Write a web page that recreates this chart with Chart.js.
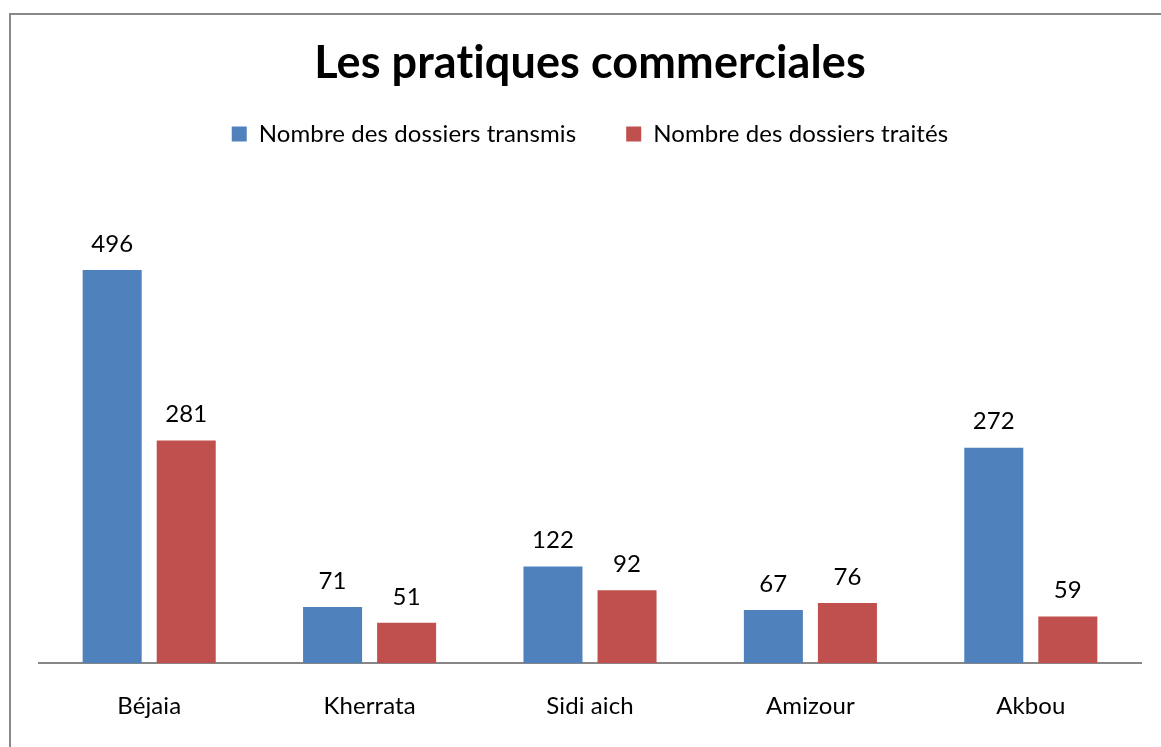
<!DOCTYPE html>
<html>
<head>
<meta charset="utf-8">
<script src="https://cdn.jsdelivr.net/npm/chart.js@4.4.1/dist/chart.umd.min.js"></script>
<style>
  html, body { margin: 0; padding: 0; background: #ffffff; overflow: hidden; }
  #wrap { position: relative; width: 1161px; height: 747px; }
  #frame { position: absolute; left: 9px; top: 13px; width: 1400px; height: 1000px;
           border-left: 2px solid #898989; border-top: 2px solid #898989; box-sizing: border-box; pointer-events: none; }
  canvas { position: absolute; left: 0; top: 0; }
</style>
</head>
<body>
<div id="wrap">
  <canvas id="c" width="1161" height="747"></canvas>
  <div id="frame"></div>
</div>
<script>
const chartTitle = "Les pratiques commerciales";
const categories = ["Béjaia", "Kherrata", "Sidi aich", "Amizour", "Akbou"];
const seriesNames = ["Nombre des dossiers transmis", "Nombre des dossiers traités"];
const transmis = [496, 71, 122, 67, 272];
const traites = [281, 51, 92, 76, 59];

const FONT = "Lato, 'Open Sans', sans-serif";

const noLigatures = {
  id: "noLigatures",
  beforeInit(chart) { chart.ctx.letterSpacing = "0.1px"; },
  beforeLayout(chart) { chart.ctx.letterSpacing = "0.1px"; },
  beforeDraw(chart) { chart.ctx.letterSpacing = "0.1px"; }
};

const valueLabels = {
  id: "valueLabels",
  afterDatasetsDraw(chart) {
    const ctx = chart.ctx;
    ctx.save();
    ctx.font = "24px " + FONT;
    ctx.fillStyle = "#000000";
    ctx.textAlign = "center";
    ctx.textBaseline = "middle";
    chart.data.datasets.forEach((ds, di) => {
      const meta = chart.getDatasetMeta(di);
      meta.data.forEach((bar, i) => {
        ctx.fillText(String(ds.data[i]), bar.x, bar.y - 26);
      });
    });
    ctx.restore();
  }
};

new Chart(document.getElementById("c"), {
  type: "bar",
  data: {
    labels: categories,
    datasets: [
      { label: seriesNames[0], data: transmis, backgroundColor: "#4F81BD",
        categoryPercentage: 0.672, barPercentage: 0.797 },
      { label: seriesNames[1], data: traites, backgroundColor: "#C0504D",
        categoryPercentage: 0.672, barPercentage: 0.797 }
    ]
  },
  options: {
    responsive: false,
    animation: false,
    devicePixelRatio: 1,
    layout: { padding: { left: 39, right: 20, top: 0, bottom: 20 } },
    plugins: {
      title: {
        display: true,
        text: chartTitle,
        color: "#000000",
        font: { family: FONT, size: 45, weight: "bold", lineHeight: 0.4 },
        padding: { top: 54, bottom: 0 }
      },
      legend: {
        display: true,
        position: "top",
        labels: {
          color: "#000000",
          font: { family: FONT, size: 24 },
          boxWidth: 15,
          boxHeight: 15,
          padding: 50
        }
      },
      tooltip: { enabled: false }
    },
    scales: {
      x: {
        grid: { display: false, drawTicks: true, tickLength: 23 },
        border: { display: true, color: "#868686", width: 2 },
        ticks: { color: "#000000", font: { family: FONT, size: 24, lineHeight: 1.2 }, padding: 6 }
      },
      y: {
        display: false,
        min: 0,
        max: 640
      }
    }
  },
  plugins: [noLigatures, valueLabels]
});
</script>
</body>
</html>
